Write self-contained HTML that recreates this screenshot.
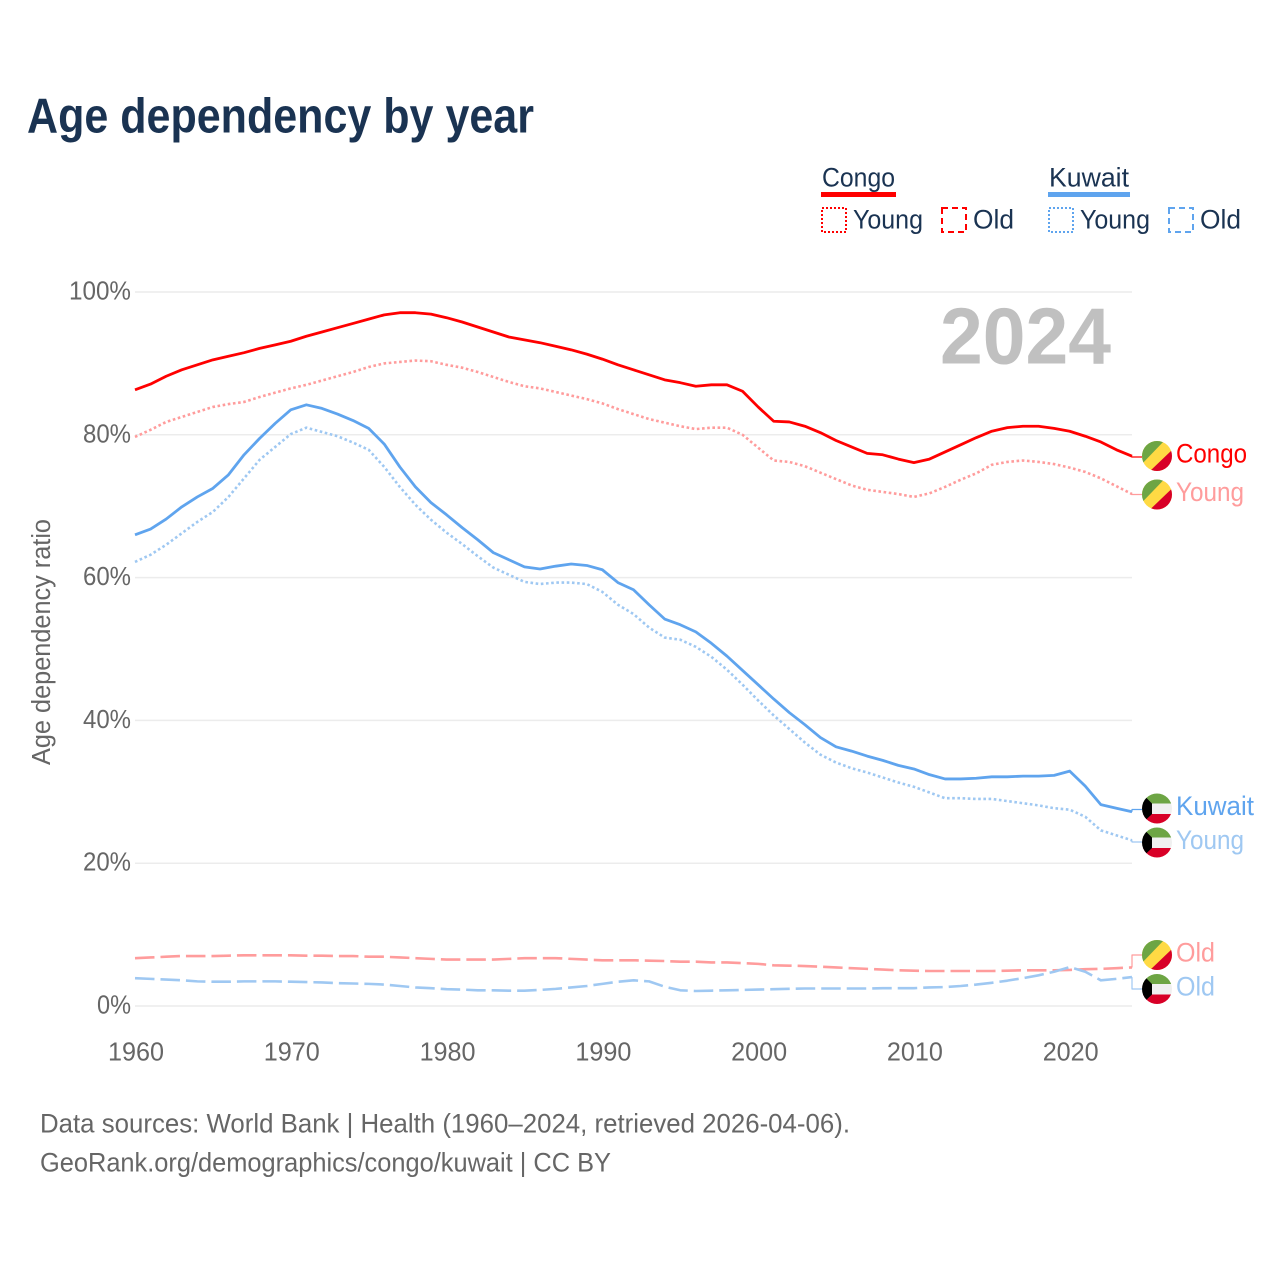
<!DOCTYPE html>
<html lang="en">
<head>
<meta charset="utf-8">
<title>Age dependency by year</title>
<style>
html,body{margin:0;padding:0;background:#fff;}
svg{display:block;font-family:"Liberation Sans",sans-serif;}
</style>
</head>
<body>
<svg id="chart" xmlns="http://www.w3.org/2000/svg" width="1280" height="1280" viewBox="0 0 1280 1280">
  <rect width="1280" height="1280" fill="#fff"/>
  <defs>
    <clipPath id="flag-clip"><circle cx="0" cy="0" r="15"/></clipPath>
  </defs>
  <text x="27" y="132.5" font-size="49" font-weight="700" fill="#1a3352" textLength="507" lengthAdjust="spacingAndGlyphs">Age dependency by year</text>

  <g font-size="26.5" fill="#1a3352">
    <text x="822" y="186.5" textLength="73" lengthAdjust="spacingAndGlyphs">Congo</text>
    <rect x="821" y="192" width="75" height="5" fill="#ff0000"/>
    <rect x="822" y="208" width="24" height="24" fill="none" stroke="#ff0000" stroke-width="2" stroke-dasharray="2 2"/>
    <text x="853" y="228.5" textLength="70" lengthAdjust="spacingAndGlyphs">Young</text>
    <rect x="942" y="208" width="24" height="24" fill="none" stroke="#ff0000" stroke-width="2" stroke-dasharray="6 4"/>
    <text x="973" y="228.5" textLength="41" lengthAdjust="spacingAndGlyphs">Old</text>
    <text x="1049" y="186.5" textLength="80" lengthAdjust="spacingAndGlyphs">Kuwait</text>
    <rect x="1048" y="192" width="82" height="5" fill="#5fa4ee"/>
    <rect x="1049" y="208" width="24" height="24" fill="none" stroke="#5fa4ee" stroke-width="2" stroke-dasharray="2 2"/>
    <text x="1080" y="228.5" textLength="70" lengthAdjust="spacingAndGlyphs">Young</text>
    <rect x="1169" y="208" width="24" height="24" fill="none" stroke="#5fa4ee" stroke-width="2" stroke-dasharray="6 4"/>
    <text x="1200" y="228.5" textLength="41" lengthAdjust="spacingAndGlyphs">Old</text>
  </g>

  <g id="grid"></g>
  <g id="yticks" font-size="25.5" fill="#666" text-anchor="end"></g>
  <g id="xticks" font-size="25.5" fill="#666" text-anchor="middle"></g>
  <text transform="translate(50,765) rotate(-90)" font-size="25.5" fill="#666" textLength="246" lengthAdjust="spacingAndGlyphs">Age dependency ratio</text>
  <text x="940" y="363.5" font-size="80" font-weight="700" fill="#c0c0c0" textLength="171" lengthAdjust="spacingAndGlyphs">2024</text>

  <g id="series" fill="none" stroke-linejoin="round"></g>
  <g id="labels" font-size="26.5"></g>

  <g font-size="26.5" fill="#666">
    <text x="40" y="1132.5" textLength="810" lengthAdjust="spacingAndGlyphs">Data sources: World Bank | Health (1960–2024, retrieved 2026-04-06).</text>
    <text x="40" y="1171.5" textLength="571" lengthAdjust="spacingAndGlyphs">GeoRank.org/demographics/congo/kuwait | CC BY</text>
  </g>
</svg>
<script>
const years = [
  1960,1961,1962,1963,1964,1965,1966,1967,1968,1969,
  1970,1971,1972,1973,1974,1975,1976,1977,1978,1979,
  1980,1981,1982,1983,1984,1985,1986,1987,1988,1989,
  1990,1991,1992,1993,1994,1995,1996,1997,1998,1999,
  2000,2001,2002,2003,2004,2005,2006,2007,2008,2009,
  2010,2011,2012,2013,2014,2015,2016,2017,2018,2019,
  2020,2021,2022,2023,2024
];
const congoTotal = [
  86.3,87.1,88.2,89.1,89.8,90.5,91.0,91.5,92.1,92.6,
  93.1,93.8,94.4,95.0,95.6,96.2,96.8,97.1,97.1,96.9,
  96.4,95.8,95.1,94.4,93.7,93.3,92.9,92.4,91.9,91.3,
  90.6,89.8,89.1,88.4,87.7,87.3,86.8,87.0,87.0,86.1,
  83.9,81.9,81.8,81.2,80.3,79.2,78.3,77.4,77.2,76.6,
  76.1,76.6,77.6,78.6,79.6,80.5,81.0,81.2,81.2,80.9,
  80.5,79.8,79.0,77.9,77.0
];
const congoYoung = [
  79.7,80.7,81.8,82.5,83.2,83.9,84.3,84.6,85.3,85.9,
  86.5,87.0,87.6,88.2,88.8,89.5,90.0,90.2,90.4,90.3,
  89.8,89.4,88.8,88.1,87.4,86.8,86.5,86.0,85.5,85.0,
  84.4,83.6,82.9,82.2,81.7,81.2,80.8,81.0,81.0,80.0,
  78.2,76.4,76.2,75.6,74.7,73.8,72.9,72.3,72.0,71.7,
  71.3,71.8,72.7,73.7,74.6,75.8,76.2,76.4,76.2,75.9,
  75.4,74.8,73.9,72.8,71.7
];
const congoOld = [
  6.7,6.8,6.9,7.0,7.0,7.0,7.05,7.1,7.1,7.1,
  7.1,7.05,7.05,7.0,7.0,6.9,6.9,6.8,6.7,6.6,
  6.5,6.5,6.5,6.5,6.6,6.7,6.7,6.7,6.6,6.5,
  6.4,6.4,6.4,6.35,6.3,6.2,6.2,6.1,6.1,6.0,
  5.9,5.7,5.65,5.6,5.5,5.4,5.3,5.2,5.1,5.0,
  4.95,4.9,4.9,4.9,4.9,4.9,4.95,5.0,5.0,5.0,
  5.05,5.15,5.2,5.3,5.4
];
const kuwaitTotal = [
  66.0,66.8,68.2,69.9,71.3,72.5,74.4,77.2,79.5,81.6,
  83.5,84.2,83.7,82.9,82.0,80.9,78.7,75.5,72.7,70.5,
  68.8,67.0,65.3,63.5,62.5,61.5,61.2,61.6,61.9,61.7,
  61.1,59.3,58.3,56.2,54.2,53.4,52.4,50.8,49.0,47.0,
  45.0,43.0,41.1,39.4,37.6,36.3,35.7,35.0,34.4,33.7,
  33.2,32.4,31.8,31.8,31.9,32.1,32.1,32.2,32.2,32.3,
  32.9,30.8,28.2,27.7,27.2
];
const kuwaitYoung = [
  62.2,63.2,64.6,66.2,67.8,69.2,71.3,73.9,76.5,78.3,
  80.1,81.0,80.4,79.8,78.9,77.9,75.5,72.7,70.2,68.1,
  66.3,64.7,63.0,61.4,60.4,59.4,59.1,59.3,59.3,59.1,
  58.0,56.2,54.9,53.0,51.6,51.3,50.3,48.9,47.1,45.0,
  42.8,40.7,38.8,36.9,35.2,34.1,33.3,32.7,32.0,31.3,
  30.7,29.9,29.1,29.1,29.0,29.0,28.7,28.4,28.1,27.7,
  27.5,26.5,24.6,23.9,23.2
];
const kuwaitOld = [
  3.9,3.8,3.7,3.6,3.45,3.4,3.4,3.45,3.45,3.45,
  3.4,3.35,3.3,3.2,3.15,3.1,3.0,2.8,2.6,2.5,
  2.35,2.3,2.2,2.2,2.15,2.15,2.25,2.4,2.6,2.8,
  3.1,3.4,3.6,3.45,2.7,2.2,2.1,2.15,2.2,2.25,
  2.3,2.35,2.4,2.45,2.45,2.45,2.45,2.45,2.5,2.5,
  2.5,2.6,2.65,2.8,3.0,3.25,3.55,3.9,4.3,4.8,
  5.45,4.8,3.6,3.8,4.05
];
const yTicks = [0,20,40,60,80,100];
const xTicks = [1960,1970,1980,1990,2000,2010,2020];

const NS = 'http://www.w3.org/2000/svg';
function xScale(year){ return 135 + (year - 1960) * (1132 - 135) / (2024 - 1960); }
function yScale(v){ return 1006 - v * 7.14; }
function make(tag, parent){
  const el = document.createElementNS(NS, tag);
  parent.appendChild(el);
  return el;
}

const grid = document.getElementById('grid');
const yG = document.getElementById('yticks');
const xG = document.getElementById('xticks');

yTicks.forEach(function(t){
  const ln = make('line', grid);
  
  
  ln.setAttribute('x1', 135);
  ln.setAttribute('x2', 1132);
  ln.setAttribute('y1', yScale(t));
  ln.setAttribute('y2', yScale(t));
  ln.setAttribute('stroke', '#ececec');
  ln.setAttribute('stroke-width', '1.5');
  const tx = make('text', yG);
  
  
  const label = t + '%';
  tx.setAttribute('x', 131);
  tx.setAttribute('y', yScale(t) + 7.5);
  tx.setAttribute('textLength', 14 * (label.length - 1) + 20);
  tx.setAttribute('lengthAdjust', 'spacingAndGlyphs');
  tx.textContent = label;
});

xTicks.forEach(function(t){
  const tx = make('text', xG);
  
  
  tx.setAttribute('x', xScale(t) + 1);
  tx.setAttribute('y', 1060.5);
  tx.setAttribute('textLength', 56);
  tx.setAttribute('lengthAdjust', 'spacingAndGlyphs');
  tx.textContent = t;
});

function drawLine(values, color, width, dash, name, endY){
  const p = make('path', document.getElementById('series'));
  
  
  const pts = values.map(function(v, i){
    return (i ? 'L' : 'M') + xScale(years[i]).toFixed(2) + ' ' + yScale(v).toFixed(2);
  });
  p.setAttribute('d', pts.join(''));
  p.setAttribute('stroke', color);
  p.setAttribute('stroke-width', width);
  if (dash) p.setAttribute('stroke-dasharray', dash);
  const c = make('path', document.getElementById('series'));
  
  
  const lastX = xScale(years[years.length - 1]);
  const lastY = yScale(values[values.length - 1]);
  c.setAttribute('d', 'M' + lastX + ' ' + lastY + 'V' + endY + 'H1142');
  c.setAttribute('stroke', color);
  c.setAttribute('stroke-width', '1.2');
}

const RED = '#ff0000', RED_L = '#ff9c9c', BLUE = '#5fa4ee', BLUE_L = '#9fc8f2';
drawLine(congoOld, RED_L, 2.6, '19.5 6', 'congo-old-line', 955);
drawLine(kuwaitOld, BLUE_L, 2.6, '19.5 6', 'kuwait-old-line', 989);
drawLine(congoYoung, RED_L, 2.6, '2.6 2.6', 'congo-young-line', 494.5);
drawLine(kuwaitYoung, BLUE_L, 2.6, '2.6 2.6', 'kuwait-young-line', 842);
drawLine(congoTotal, RED, 2.8, '', 'congo-total-line', 457);
drawLine(kuwaitTotal, BLUE, 2.8, '', 'kuwait-total-line', 809.5);

function poly(parent, pts, fill){
  const p = make('polygon', parent);
  p.setAttribute('points', pts);
  p.setAttribute('fill', fill);
  return p;
}
function flagCongo(parent){
  const g = make('g', parent);
  g.setAttribute('clip-path', 'url(#flag-clip)');
  poly(g, '-16,-16 16,-16 16,16 -16,16', '#ffda44');
  poly(g, '-16,-16 8,-16 -16,9', '#6da544');
  poly(g, '16,-7 16,16 -8,16', '#d80027');
}
function flagKuwait(parent){
  const g = make('g', parent);
  g.setAttribute('clip-path', 'url(#flag-clip)');
  poly(g, '-16,-16 16,-16 16,-5 -16,-5', '#6da544');
  poly(g, '-16,-5 16,-5 16,5.5 -16,5.5', '#f0f0f0');
  poly(g, '-16,5.5 16,5.5 16,16 -16,16', '#d80027');
  poly(g, '-16,-16 -15,-15 -5,-5 -5,5.5 -15,15 -16,16', '#000000');
}
function endLabel(cy, text, len, color, flag, name){
  const labels = document.getElementById('labels');
  const g = make('g', labels);
  
  
  g.setAttribute('transform', 'translate(1157,' + cy + ')');
  flag(g);
  const t = make('text', labels);
  
  
  t.setAttribute('x', 1176);
  t.setAttribute('y', cy + 6.5);
  t.setAttribute('fill', color);
  t.setAttribute('textLength', len);
  t.setAttribute('lengthAdjust', 'spacingAndGlyphs');
  t.textContent = text;
}
endLabel(456, 'Congo', 71, RED, flagCongo, 'congo-total');
endLabel(494.5, 'Young', 68, RED_L, flagCongo, 'congo-young');
endLabel(808.5, 'Kuwait', 78, BLUE, flagKuwait, 'kuwait-total');
endLabel(842.5, 'Young', 68, BLUE_L, flagKuwait, 'kuwait-young');
endLabel(955, 'Old', 39, RED_L, flagCongo, 'congo-old');
endLabel(989, 'Old', 39, BLUE_L, flagKuwait, 'kuwait-old');
</script>
</body>
</html>
